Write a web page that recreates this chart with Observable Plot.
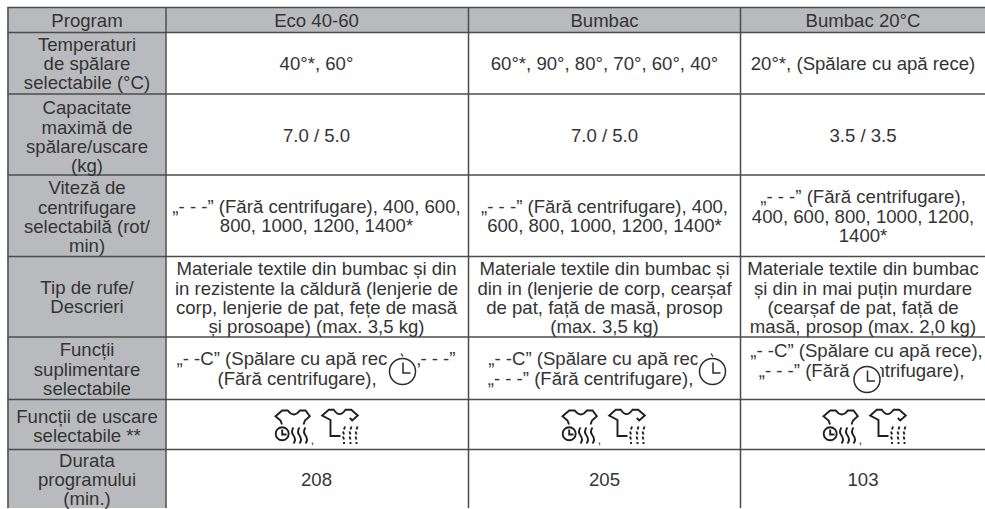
<!DOCTYPE html>
<html>
<head>
<meta charset="utf-8">
<script src="https://cdn.jsdelivr.net/npm/d3@7"></script>
<script src="https://cdn.jsdelivr.net/npm/@observablehq/plot@0.6"></script>
<style>html,body{margin:0;padding:0;background:#fff}svg{display:block}</style>
</head>
<body>
<div id="chart"></div>
<script>
const programs = ["Eco 40-60", "Bumbac", "Bumbac 20°C"];
const rowLabels = ["Program", "Temperaturi\nde spălare\nselectabile (°C)", "Capacitate\nmaximă de\nspălare/uscare\n(kg)", "Viteză de\ncentrifugare\nselectabilă (rot/\nmin)", "Tip de rufe/\nDescrieri", "Funcții\nsuplimentare\nselectabile", "Funcții de uscare\nselectabile **", "Durata\nprogramului\n(min.)"];
const temps = ["40°*, 60°", "60°*, 90°, 80°, 70°, 60°, 40°", "20°*, (Spălare cu apă rece)"];
const capacity = ["7.0 / 5.0", "7.0 / 5.0", "3.5 / 3.5"];
const speeds = ["„- - -” (Fără centrifugare), 400, 600,\n800, 1000, 1200, 1400*", "„- - -” (Fără centrifugare), 400,\n600, 800, 1000, 1200, 1400*", "„- - -” (Fără centrifugare),\n400, 600, 800, 1000, 1200,\n1400*"];
const laundry = ["Materiale textile din bumbac și din\nin rezistente la căldură (lenjerie de\ncorp, lenjerie de pat, fețe de masă\nși prosoape) (max. 3,5 kg)", "Materiale textile din bumbac și\ndin in (lenjerie de corp, cearșaf\nde pat, față de masă, prosop\n(max. 3,5 kg)", "Materiale textile din bumbac\nși din in mai puțin murdare\n(cearșaf de pat, față de\nmasă, prosop (max. 2,0 kg)"];
const extrasLine1 = ["„- -C” (Spălare cu apă rece), „- - -”", "„- -C” (Spălare cu apă rece),", "„- -C” (Spălare cu apă rece),"];
const extrasLine2 = ["(Fără centrifugare),", "„- - -” (Fără centrifugare),", "„- - -” (Fără centrifugare),"];
const durations = [208, 205, 103];

// table layout
const colEdges = [7.5, 165.5, 468, 740, 985];
const rowEdges = [7, 32, 93.5, 174.5, 256, 336.5, 399, 449, 508];
const labelY = [20, 63.5, 136.5, 216.5, 297, 369, 426, 479.5];
const bodyY = [20, 63.5, 135, 215.5, 297.5, null, null, 479];
const speedY = [215.5, 215.5, 216];
const cols = [316, 604, 862.5];
const extras1X = [315.5, 604, 866];
const extras2X = [296.5, 590, 861];
const extras1Y = [358, 358, 350];
const extras2Y = [378, 378, 370];
const patches = [[387.5, 417, 351, 386], [697.5, 727, 351, 386], [852, 880, 365, 393]];
const clockX = [402, 712, 866.5];
const clockY = [371, 371, 379];
const tickX = [402, 712];
const iconX = [270, 557, 818];
const iconY = 400;

const stroke = "#4b4b4d", ink = "#343434", gray = "#b9babd";

function unit(draw) {
  return {draw(ctx, size) { draw(ctx, Math.sqrt(size / Math.PI)); }};
}
const clockSym = unit((c, k) => {
  c.moveTo(13 * k, 0); c.arc(0, 0, 13 * k, 0, Math.PI * 2);
  c.moveTo(0.5 * k, -9 * k); c.lineTo(0.5 * k, 1.5 * k); c.lineTo(8 * k, 1.5 * k);
});
const tickSym = unit((c, k) => { c.moveTo(-1.5 * k, -18 * k); c.lineTo(0.5 * k, -15 * k); });
const shirtA = unit((c, k) => {
  const M = (x, y) => c.moveTo(x * k, y * k), L = (x, y) => c.lineTo(x * k, y * k), Q = (a, b, x, y) => c.quadraticCurveTo(a * k, b * k, x * k, y * k);
  M(11.5, 24); L(10, 20); L(5, 15.7); L(11.7, 10); L(17.3, 10); Q(23.3, 18, 29.3, 10); L(35, 10); L(39.3, 15.7); L(34.5, 20); L(33, 24);
  c.moveTo(18.2 * k, 33.3 * k); c.arc(11.7 * k, 33.3 * k, 6.5 * k, 0, Math.PI * 2);
  M(11.7, 29); L(11.7, 34); L(16, 34);
  for (const x of [23, 29, 35]) { M(x, 27); Q(x - 3, 31, x, 35); Q(x + 3, 39, x, 43); }
});
const shirtB = unit((c, k) => {
  const M = (x, y) => c.moveTo(x * k, y * k), L = (x, y) => c.lineTo(x * k, y * k), Q = (a, b, x, y) => c.quadraticCurveTo(a * k, b * k, x * k, y * k);
  M(70, 35.5); L(60, 35.5); L(60, 19.5); L(51.7, 15); L(58.3, 9.3); L(63.3, 9.3); Q(69, 18, 75, 9.3); L(80.7, 9.3); L(87.3, 15); L(81.7, 20); L(79.3, 17.5);
  for (const x of [73.5, 80, 86]) {
    for (const [a, b, d] of [[26, 29, 1], [31, 34, -1], [36, 39, -1], [41.5, 43.5, 0]]) { M(x + d, a); L(x, b); }
  }
});

const idx = [0, 1, 2];
const cells = (arr, ys) => idx.map(i => ({x: cols[i], y: ys[i], t: String(arr[i])}));
const body = [
  ...cells(programs, idx.map(() => bodyY[0])),
  ...cells(temps, idx.map(() => bodyY[1])),
  ...cells(capacity, idx.map(() => bodyY[2])),
  ...cells(speeds, speedY),
  ...cells(laundry, idx.map(() => bodyY[4])),
  ...cells(durations, idx.map(() => bodyY[7]))
];
const extras = idx.flatMap(i => [
  {x: extras1X[i], y: extras1Y[i], t: extrasLine1[i]},
  {x: extras2X[i], y: extras2Y[i], t: extrasLine2[i]}
]);
const labels = rowLabels.map((t, i) => ({x: (colEdges[0] + colEdges[1]) / 2, y: labelY[i], t}));
const grayCells = [
  {x1: colEdges[0], x2: colEdges[1], y1: rowEdges[0], y2: rowEdges[8]},
  {x1: colEdges[1], x2: colEdges[4], y1: rowEdges[0], y2: rowEdges[1]}
];
const textOpts = {x: "x", y: "y", text: "t", fontSize: 18.6, lineHeight: 1.03, lineAnchor: "middle", textAnchor: "middle", fill: ink, fontFamily: "'Liberation Sans', Arial, sans-serif"};

const chart = Plot.plot({
  width: 985, height: 509,
  marginTop: 0, marginRight: 0, marginBottom: 0, marginLeft: 0,
  x: {domain: [0, 985], range: [0, 985], axis: null},
  y: {domain: [0, 509], range: [0, 509], axis: null},
  style: {background: "#fff"},
  marks: [
    Plot.rect(grayCells, {x1: "x1", x2: "x2", y1: "y1", y2: "y2", fill: gray}),
    Plot.ruleY(rowEdges.slice(0, 8), {x1: colEdges[0], x2: 985, stroke, strokeWidth: 1.5}),
    Plot.ruleX(colEdges.slice(0, 4), {y1: rowEdges[0], y2: rowEdges[8], stroke, strokeWidth: 1.5}),
    Plot.text(labels, textOpts),
    Plot.text(body, textOpts),
    Plot.text(extras, textOpts),
    Plot.rect(patches, {x1: d => d[0], x2: d => d[1], y1: d => d[2], y2: d => d[3], fill: "#fff"}),
    Plot.dot(idx, {x: i => clockX[i], y: i => clockY[i], r: 1, symbol: clockSym, fill: "none", stroke: "#2b2b2b", strokeWidth: 1.5}),
    Plot.dot(tickX, {x: d => d, y: clockY[0], r: 1, symbol: tickSym, fill: "none", stroke: "#2b2b2b", strokeWidth: 1.3}),
    Plot.dot(iconX, {x: d => d, y: iconY, r: 1, symbol: shirtA, fill: "none", stroke: "#1f1f1f", strokeWidth: 1.9}),
    Plot.dot(iconX, {x: d => d, y: iconY, r: 1, symbol: shirtB, fill: "none", stroke: "#1f1f1f", strokeWidth: 1.9}),
    Plot.text(iconX, {x: d => d + 42, y: iconY + 40, text: () => ",", fontSize: 12, fill: ink, textAnchor: "middle", fontFamily: "'Liberation Sans', Arial, sans-serif"})
  ]
});
document.getElementById("chart").appendChild(chart);
</script>
</body>
</html>
